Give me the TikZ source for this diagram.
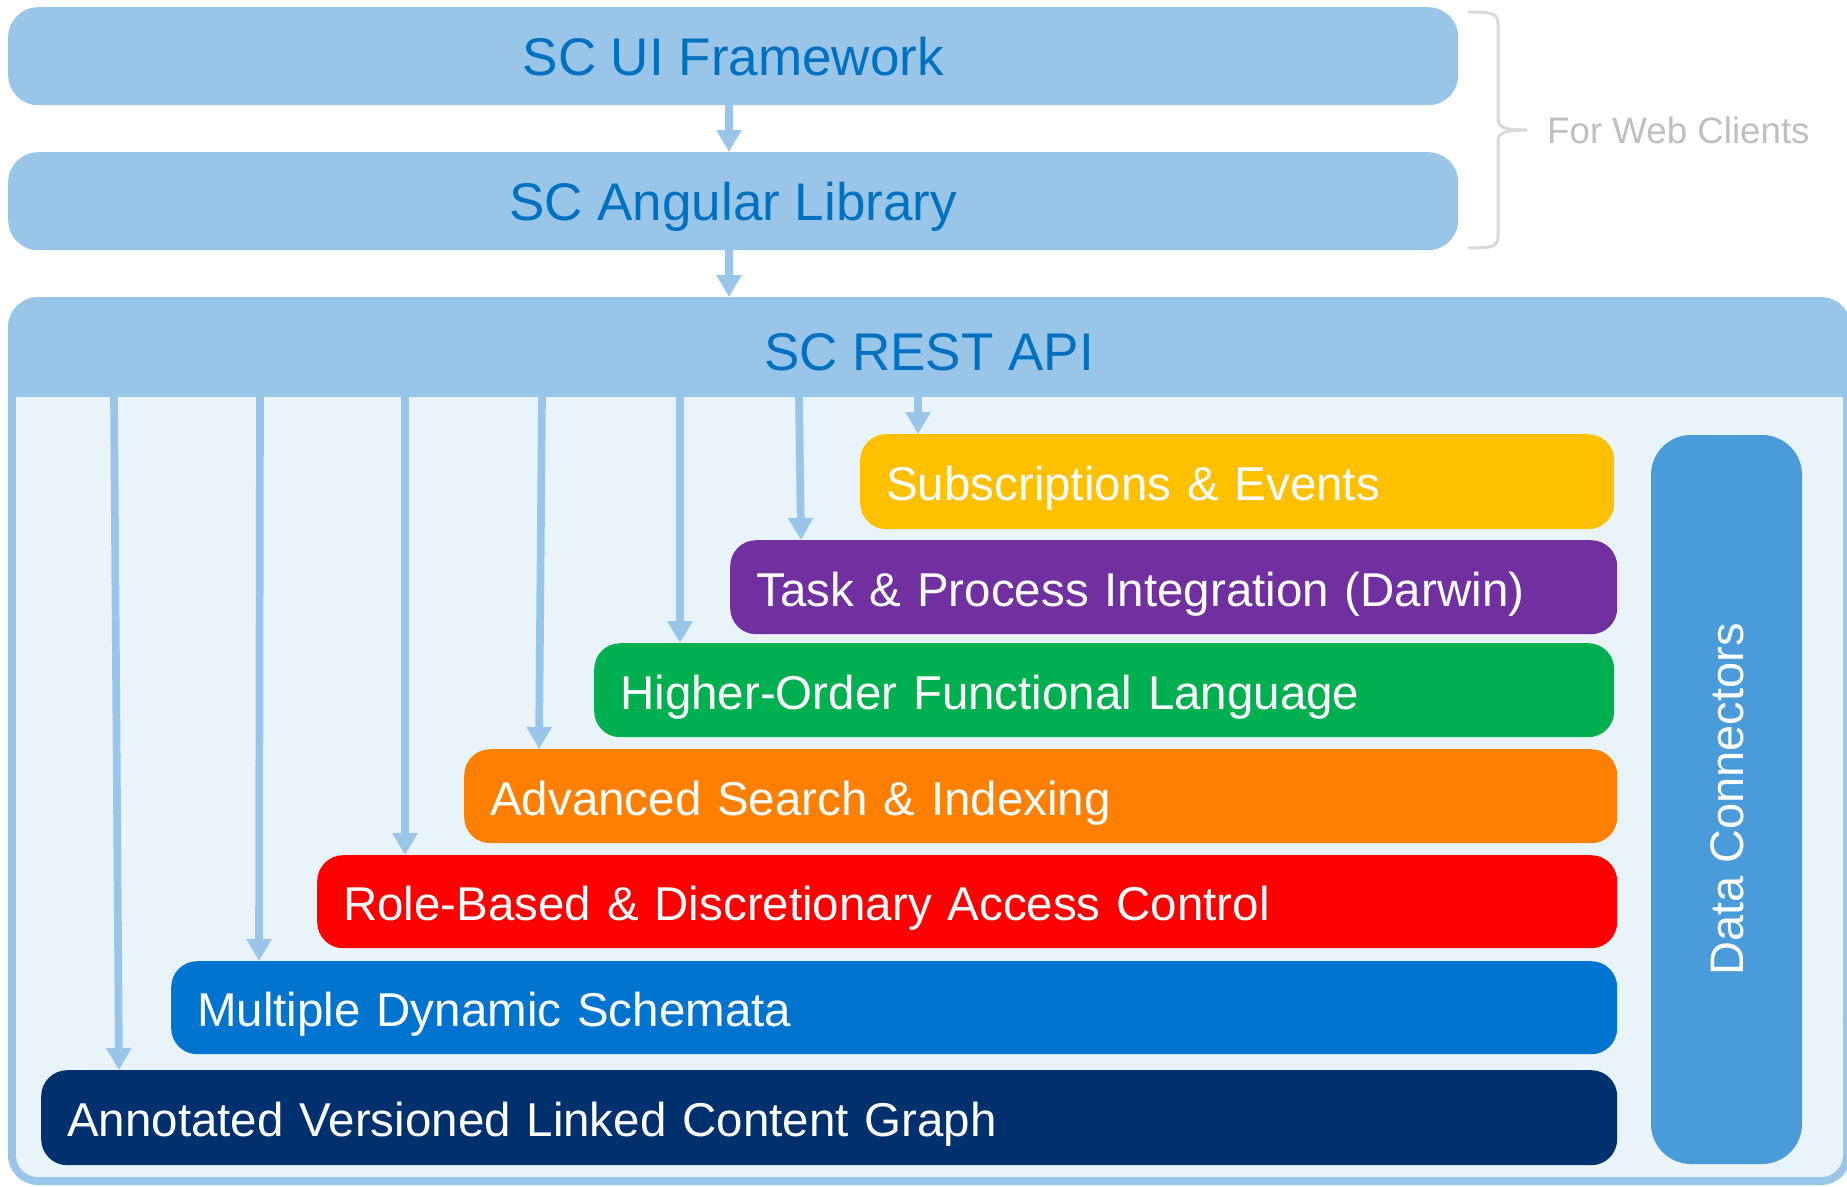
\documentclass[tikz,border=0pt]{standalone}
\usepackage{fontspec}
\setmainfont{Liberation Sans}
\usetikzlibrary{arrows.meta}
\definecolor{hdr}{RGB}{153,197,233}
\definecolor{inner}{RGB}{232,243,250}
\definecolor{hdrtext}{RGB}{0,112,192}
\definecolor{bracegray}{RGB}{217,217,217}
\definecolor{textgray}{RGB}{191,191,191}
\definecolor{cyellow}{RGB}{255,192,0}
\definecolor{cpurple}{RGB}{112,48,160}
\definecolor{cgreen}{RGB}{0,176,80}
\definecolor{corange}{RGB}{255,128,0}
\definecolor{cred}{RGB}{255,0,0}
\definecolor{cblue}{RGB}{0,116,206}
\definecolor{cnavy}{RGB}{0,48,110}
\definecolor{cdc}{RGB}{74,155,218}
\begin{document}
\begin{tikzpicture}[x=1pt,y=-1pt,
  topbox/.style={fill=hdr, rounded corners=30pt, anchor=north west, inner sep=0pt,
    minimum width=1450pt, minimum height=98pt, text=hdrtext,
    font=\fontsize{53}{60}\selectfont, text height=38pt, text depth=0pt},
  layer/.style={rounded corners=26pt, anchor=north west, inner xsep=26pt, inner ysep=0pt,
    text=white, font=\fontsize{47.5}{55}\selectfont, text height=38pt, text depth=0pt,
    align=left},
  arr/.style={draw=hdr, line width=7.7pt, -{Triangle[width=24pt,length=22pt]}}
]
\useasboundingbox (0,0) rectangle (1847,1186);
\fill[white] (0,0) rectangle (1847,1186);

% top boxes
\node[topbox] (ui) at (8,7) {SC UI Framework};
\node[topbox] (ang) at (8,152) {SC Angular Library};

% brace
\draw[bracegray, line width=3pt] (1468,12) .. controls (1492,12) and (1498,13) .. (1498,24)
  -- (1498,118) .. controls (1498,127) and (1503,130) .. (1527,130);
\draw[bracegray, line width=3pt] (1468,248) .. controls (1492,248) and (1498,247) .. (1498,236)
  -- (1498,142) .. controls (1498,133) and (1503,130) .. (1527,130);
\node[anchor=west, inner sep=0pt, text=textgray, font=\fontsize{36.7}{42}\selectfont,
  text height=26pt, text depth=0pt] (web) at (1547,130) {For Web Clients};

% REST API container
\fill[hdr, rounded corners=30pt] (8,297) rectangle (1851,1185);
\fill[inner] (16,397) rectangle (1843,1100);
\fill[inner, rounded corners=22pt] (16,1000) rectangle (1843,1177);
\node[anchor=north west, inner sep=0pt, minimum width=1843pt, minimum height=100pt]
  (rest) at (8,297) {};
\node[text=hdrtext, font=\fontsize{53}{60}\selectfont, text height=38pt, text depth=0pt,
  inner sep=0pt] (resttxt) at (929,351) {SC REST API};

% layers
\node[layer, fill=cyellow, minimum width=754pt, minimum height=95pt, text width=702pt]
  (sub) at (860,434) {Subscriptions \& Events};
\node[layer, fill=cpurple, minimum width=887pt, minimum height=94pt, text width=835pt]
  (task) at (730,540) {Task \& Process Integration (Darwin)};
\node[layer, fill=cgreen, minimum width=1020pt, minimum height=94pt, text width=968pt]
  (hol) at (594,643) {Higher-Order Functional Language};
\node[layer, fill=corange, minimum width=1153pt, minimum height=94pt, text width=1101pt]
  (adv) at (464,749) {Advanced Search \& Indexing};
\node[layer, fill=cred, minimum width=1300pt, minimum height=93pt, text width=1248pt]
  (role) at (317,855) {Role-Based \& Discretionary Access Control};
\node[layer, fill=cblue, minimum width=1446pt, minimum height=93pt, text width=1394pt]
  (multi) at (171,961) {Multiple Dynamic Schemata};
\node[layer, fill=cnavy, minimum width=1576pt, minimum height=95pt, text width=1524pt]
  (ann) at (41,1070) {Annotated Versioned Linked Content Graph};

% data connectors
\node[fill=cdc, rounded corners=40pt, rotate=90, minimum width=729pt, minimum height=151pt,
  inner sep=0pt, text=white, font=\fontsize{47}{55}\selectfont, text height=34pt, text depth=0pt]
  (dc) at (1726.5,799.5) {Data Connectors};

% arrows
\draw[arr] (ui.south -| 729,0) -- (ang.north -| 729,0);
\draw[arr] (ang.south -| 729,0) -- (rest.north -| 729,0);
\coordinate (s1) at (114,397);
\coordinate (s2) at (260,397);
\coordinate (s3) at (405,397);
\coordinate (s4) at (542,397);
\coordinate (s5) at (680,397);
\coordinate (s6) at (799,397);
\coordinate (s7) at (918,397);
\draw[arr] (s1) -- ([xshift=78pt]ann.north west);
\draw[arr] (s2) -- ([xshift=88pt]multi.north west);
\draw[arr] (s3) -- ([xshift=88pt]role.north west);
\draw[arr] (s4) -- ([xshift=75pt]adv.north west);
\draw[arr] (s5) -- ([xshift=86pt]hol.north west);
\draw[arr] (s6) -- ([xshift=71pt]task.north west);
\draw[arr] (s7) -- ([xshift=58pt]sub.north west);
\end{tikzpicture}
\end{document}
